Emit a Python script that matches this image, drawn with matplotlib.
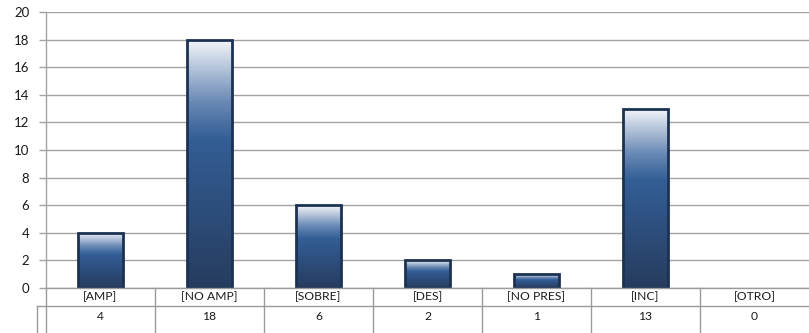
import matplotlib.pyplot as plt
import numpy as np
from matplotlib.colors import LinearSegmentedColormap
from matplotlib.patches import Rectangle
from matplotlib.transforms import blended_transform_factory

categories = ['[AMP]', '[NO AMP]', '[SOBRE]', '[DES]', '[NO PRES]', '[INC]', '[OTRO]']
values = [4, 18, 6, 2, 1, 13, 0]

plt.rcParams['font.family'] = ['Lato', 'DejaVu Sans']

W, H = 809, 333
fig = plt.figure(figsize=(W / 100, H / 100), dpi=100)
ax = fig.add_axes([46 / W, (H - 288) / H, 1 - 46 / W, 276 / H])

# gradient: dark at bottom, blue in the middle, near white at top
cmap = LinearSegmentedColormap.from_list(
    'bar', [(0.0, '#263C5E'), (0.6, '#335E96'), (0.75, '#6A8AB5'), (1.0, '#F4F6FA')])
grad = np.linspace(0, 1, 256).reshape(-1, 1)

bw = 0.41
for i, v in enumerate(values):
    if v <= 0:
        continue
    ax.imshow(grad, cmap=cmap, origin='lower', aspect='auto',
              extent=[i - bw / 2, i + bw / 2, 0, v], zorder=3, interpolation='bilinear')
    ax.add_patch(Rectangle((i - bw / 2, 0), bw, v, fill=False,
                           edgecolor='#1D3252', linewidth=2.0, zorder=4))

ax.set_xlim(-0.5, len(categories) - 0.5)
ax.set_ylim(0, 20)
ax.set_yticks(range(0, 21, 2))
ax.grid(axis='y', color='#A3A3A3', linewidth=1.0, zorder=0)
ax.set_axisbelow(True)
for s in ['top', 'right', 'bottom']:
    ax.spines[s].set_visible(False)
ax.spines['left'].set_color('#A3A3A3')
ax.spines['left'].set_linewidth(1.0)
ax.set_xticks([])
ax.tick_params(axis='y', length=5, width=1.0, color='#A3A3A3', labelsize=9.5, pad=7,
               labelcolor='#1a1a1a')

# data table below the axis
tr = blended_transform_factory(ax.transData, ax.transAxes)
r1 = -18 / 276
r2 = -46 / 276
lc = '#9A9A9A'
n = len(categories)
ax.plot([-0.5, n - 0.5], [0, 0], transform=tr, color=lc, lw=1.0, clip_on=False, zorder=5)
ax.plot([-0.5 - 9 / 109, n - 0.5], [r1, r1], transform=tr, color=lc, lw=1.0, clip_on=False)
ax.plot([-0.5 - 9 / 109] * 2, [r1, r2], transform=tr, color=lc, lw=1.0, clip_on=False)
for k in range(n):
    ax.plot([k - 0.5, k - 0.5], [0, r2], transform=tr, color=lc, lw=1.0, clip_on=False)
    ax.text(k, r1 / 2, categories[k], transform=tr, ha='center', va='center',
            fontsize=8.7, color='#1a1a1a')
    ax.text(k, (r1 + (-38 / 276)) / 2, str(values[k]), transform=tr, ha='center',
            va='center', fontsize=8.7, color='#1a1a1a')

fig.savefig('out.png', dpi=100)
